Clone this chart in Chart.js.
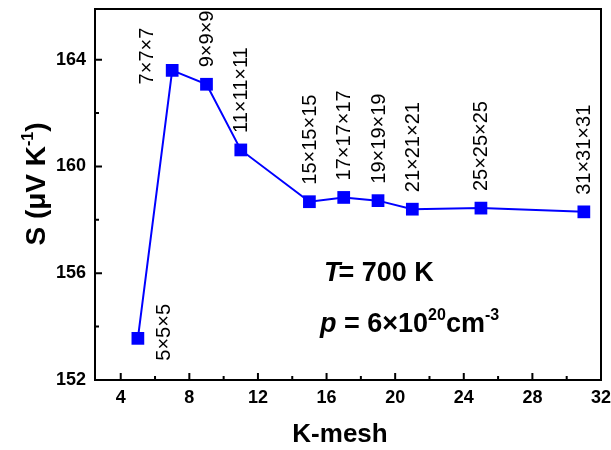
<!DOCTYPE html>
<html lang="en">

<head>
    <meta charset="UTF-8">
    <title>K-mesh convergence</title>
    <script src="https://cdn.jsdelivr.net/npm/chart.js"></script>
    <style>
        body { margin: 0; background: #fff; }
        .wrap { width: 611px; height: 450px; }
    </style>
</head>

<body>
    <div class="wrap">
        <canvas id="myChart" width="611" height="450"></canvas>
    </div>

    <script>
        // k-point mesh size and Seebeck coefficient (uV/K)
        const kMesh = [5, 7, 9, 11, 15, 17, 19, 21, 25, 31];
        const seebeck = [153.56, 163.6, 163.08, 160.62, 158.68, 158.84, 158.72, 158.4, 158.44, 158.3];
        const meshLabels = ['5×5×5', '7×7×7', '9×9×9', '11×11×11', '15×15×15', '17×17×17',
            '19×19×19', '21×21×21', '25×25×25', '31×31×31'];

        const xTicks = [4, 8, 12, 16, 20, 24, 28, 32];
        const xMinor = [6, 10, 14, 18, 22, 26, 30];
        const yTicks = [152, 156, 160, 164];
        const yMinor = [154, 158, 162];

        const FONT = 'Liberation Sans, Arial, sans-serif';

        // frame, inward ticks, labels and titles drawn from the scales
        const axesPlugin = {
            id: 'axesPlugin',
            afterDatasetsDraw(chart) {
                const ctx = chart.ctx;
                const a = chart.chartArea;
                const xs = chart.scales.x;
                const ys = chart.scales.y;
                ctx.save();
                ctx.strokeStyle = '#000';
                ctx.lineWidth = 2;
                ctx.strokeRect(a.left, a.top, a.right - a.left, a.bottom - a.top);

                ctx.beginPath();
                xTicks.forEach(v => {
                    const px = xs.getPixelForValue(v);
                    ctx.moveTo(px, a.bottom); ctx.lineTo(px, a.bottom - 7);
                });
                xMinor.forEach(v => {
                    const px = xs.getPixelForValue(v);
                    ctx.moveTo(px, a.bottom); ctx.lineTo(px, a.bottom - 4);
                });
                yTicks.forEach(v => {
                    const py = ys.getPixelForValue(v);
                    ctx.moveTo(a.left, py); ctx.lineTo(a.left + 7, py);
                });
                yMinor.forEach(v => {
                    const py = ys.getPixelForValue(v);
                    ctx.moveTo(a.left, py); ctx.lineTo(a.left + 4, py);
                });
                ctx.stroke();

                ctx.fillStyle = '#000';
                ctx.font = 'bold 18px ' + FONT;
                ctx.textAlign = 'center';
                ctx.textBaseline = 'top';
                xTicks.forEach(v => ctx.fillText(String(v), xs.getPixelForValue(v), a.bottom + 9));
                ctx.textAlign = 'right';
                ctx.textBaseline = 'middle';
                yTicks.forEach(v => ctx.fillText(String(v), a.left - 9, ys.getPixelForValue(v)));

                // x title
                ctx.font = 'bold 26px ' + FONT;
                ctx.textAlign = 'center';
                ctx.textBaseline = 'alphabetic';
                ctx.fillText('K-mesh', (a.left + a.right) / 2 - 8, 442);

                // y title, rotated, with superscript
                ctx.save();
                ctx.translate(45, 184);
                ctx.rotate(-Math.PI / 2);
                ctx.textAlign = 'left';
                const big = 'bold 28px ' + FONT;
                const sup = 'bold 16px ' + FONT;
                const parts = [['S (μV K', big, 0], ['-1', sup, -12], [')', big, 0]];
                let w = 0;
                parts.forEach(p => { ctx.font = p[1]; w += ctx.measureText(p[0]).width; });
                let cx = -w / 2;
                parts.forEach(p => {
                    ctx.font = p[1];
                    ctx.fillText(p[0], cx, p[2]);
                    cx += ctx.measureText(p[0]).width;
                });
                ctx.restore();

                // mesh labels, vertical
                ctx.font = '20px ' + FONT;
                ctx.textBaseline = 'middle';
                kMesh.forEach((k, i) => {
                    const px = xs.getPixelForValue(k);
                    const py = ys.getPixelForValue(seebeck[i]);
                    ctx.save();
                    if (i === 0) {
                        ctx.translate(px + 27, py - 6);
                        ctx.rotate(-Math.PI / 2);
                        ctx.textAlign = 'center';
                    } else if (i === 1) {
                        ctx.translate(px - 25, py + 14);
                        ctx.rotate(-Math.PI / 2);
                        ctx.textAlign = 'left';
                    } else {
                        ctx.translate(px + 1, py - 17);
                        ctx.rotate(-Math.PI / 2);
                        ctx.textAlign = 'left';
                    }
                    ctx.fillText(meshLabels[i], 0, 0);
                    ctx.restore();
                });

                // annotation
                ctx.textAlign = 'left';
                ctx.textBaseline = 'alphabetic';
                let ax = 324;
                ctx.font = 'italic bold 27px ' + FONT;
                ctx.fillText('T', ax, 281);
                ax += ctx.measureText('T').width - 2;
                ctx.font = 'bold 27px ' + FONT;
                ctx.fillText('= 700 K', ax, 281);

                ax = 320;
                const line2 = [['p', 'italic bold 27px ', 0], [' = 6×10', 'bold 27px ', 0], ['20', 'bold 16px ', -12],
                    ['cm', 'bold 27px ', 0], ['-3', 'bold 16px ', -12]];
                line2.forEach(p => {
                    ctx.font = p[1] + FONT;
                    ctx.fillText(p[0], ax, 332 + p[2]);
                    ax += ctx.measureText(p[0]).width;
                });
                ctx.restore();
            }
        };

        const points = kMesh.map((k, i) => ({ x: k, y: seebeck[i] }));

        new Chart(document.getElementById('myChart'), {
            type: 'scatter',
            data: {
                datasets: [{
                    label: 'S',
                    data: points,
                    showLine: true,
                    borderColor: '#0000ff',
                    backgroundColor: '#0000ff',
                    borderWidth: 2,
                    pointStyle: 'rect',
                    pointRadius: 9,
                    pointBorderWidth: 0,
                    tension: 0,
                }]
            },
            options: {
                responsive: false,
                animation: false,
                layout: { padding: { left: 95, top: 5, right: 10, bottom: 70 } },
                scales: {
                    x: { type: 'linear', min: 2.5, max: 32, display: false },
                    y: { type: 'linear', min: 152, max: 165.9, display: false }
                },
                plugins: {
                    legend: { display: false },
                    tooltip: { enabled: false }
                }
            },
            plugins: [axesPlugin]
        });
    </script>

</body>

</html>
